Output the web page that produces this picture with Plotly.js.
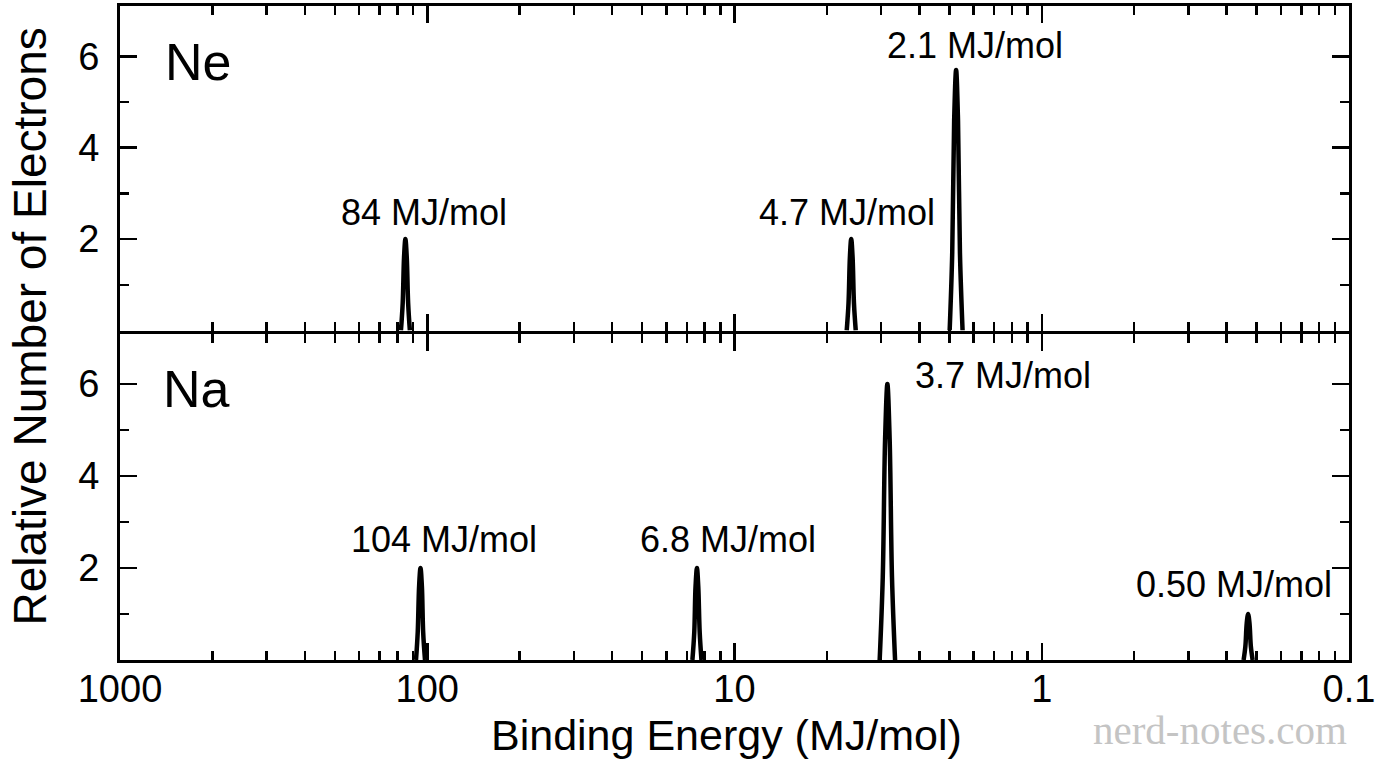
<!DOCTYPE html>
<html>
<head>
<meta charset="utf-8">
<script src="https://cdn.plot.ly/plotly-3.0.1.min.js"></script>
<style>
  html, body { margin: 0; padding: 0; background: #fff; }
  #chart { width: 1376px; height: 768px; }
</style>
</head>
<body>
<div id="chart"></div>
<script>
// binding energies (MJ/mol) and relative electron counts
const neEnergy = [121.8, 120.2, 119.0, 117.8, 116.6, 115.4, 113.9, null,
                  4.313, 4.255, 4.212, 4.170, 4.127, 4.085, 4.031, null,
                  1.994, 1.956, 1.928, 1.900, 1.873, 1.846, 1.810];
const neCount  = [0, 0.6, 1.6, 2, 1.6, 0.6, 0, null,
                  0, 0.6, 1.6, 2, 1.6, 0.6, 0, null,
                  0, 1.7, 4.6, 5.7, 4.6, 1.7, 0];

const naEnergy = [108.8, 107.4, 106.3, 105.2, 104.1, 103.1, 101.7, null,
                  13.71, 13.52, 13.39, 13.25, 13.12, 12.98, 12.81, null,
                  3.369, 3.292, 3.235, 3.180, 3.126, 3.072, 3.002, null,
                  0.2203, 0.2174, 0.2152, 0.2130, 0.2108, 0.2087, 0.2059];
const naCount  = [0, 0.6, 1.6, 2, 1.6, 0.6, 0, null,
                  0, 0.6, 1.6, 2, 1.6, 0.6, 0, null,
                  0, 1.8, 4.8, 6, 4.8, 1.8, 0, null,
                  0, 0.3, 0.8, 1, 0.8, 0.3, 0];

// peak labels
const neLabels = ['84 MJ/mol', '4.7 MJ/mol', '2.1 MJ/mol'];
const neLabelE = [102.8, 4.30, 1.644];
const neLabelY = [2.59, 2.59, 6.24];
const naLabels = ['104 MJ/mol', '6.8 MJ/mol', '3.7 MJ/mol', '0.50 MJ/mol'];
const naLabelE = [88.5, 10.5, 1.334, 0.237];
const naLabelY = [2.61, 2.61, 6.18, 1.64];

// axis ticks
const xTickVals = [1000, 100, 10, 1, 0.1];
const xTickText = ['1000', '100', '10', '1', '0.1'];
const yTickVals = [2, 4, 6];
const yMinorVals = [1, 3, 5];

// minor ticks laid out the way the figure draws them inside each decade
var xMinorVals = [];
for (let e = 2; e >= -1; --e) {
    for (let k = 2; k <= 9; ++k) {
        xMinorVals.push(Math.pow(10, e + 1) / k);
    }
}

const FONT = 'Liberation Sans, Arial, sans-serif';

function xAxis(showLabels, anchor) {
    return {
        type: 'log',
        range: [3, -1],
        anchor: anchor,
        tickmode: 'array',
        tickvals: xTickVals,
        ticktext: xTickText,
        showticklabels: showLabels,
        ticks: 'inside',
        ticklen: 17,
        tickwidth: 2.5,
        tickcolor: '#000',
        minor: {tickmode: 'array', tickvals: xMinorVals, ticks: 'inside',
                ticklen: 9, tickwidth: 2.5, tickcolor: '#000'},
        showline: true,
        linewidth: 3,
        linecolor: '#000',
        mirror: 'ticks',
        showgrid: false,
        zeroline: false,
        tickfont: {family: FONT, size: 38, color: '#000'},
        ticklabelstandoff: -7
    };
}
function yAxis(domain, anchor) {
    return {
        domain: domain,
        anchor: anchor,
        range: [0, 7.1],
        tickmode: 'array',
        tickvals: yTickVals,
        ticks: 'inside',
        ticklen: 17,
        tickwidth: 2.5,
        tickcolor: '#000',
        minor: {tickmode: 'array', tickvals: yMinorVals, ticks: 'inside',
                ticklen: 9, tickwidth: 2.5, tickcolor: '#000'},
        showline: true,
        linewidth: 3,
        linecolor: '#000',
        mirror: 'ticks',
        showgrid: false,
        zeroline: false,
        tickfont: {family: FONT, size: 38, color: '#000'},
        ticklabelstandoff: 10
    };
}

var traces = [
    {x: neEnergy, y: neCount, xaxis: 'x', yaxis: 'y', type: 'scatter', mode: 'lines',
     line: {color: '#000', width: 4.5, shape: 'spline', smoothing: 1}, connectgaps: false,
     hoverinfo: 'skip', showlegend: false},
    {x: naEnergy, y: naCount, xaxis: 'x2', yaxis: 'y2', type: 'scatter', mode: 'lines',
     line: {color: '#000', width: 4.5, shape: 'spline', smoothing: 1}, connectgaps: false,
     hoverinfo: 'skip', showlegend: false}
];

var annotations = [];
const labelFont = {family: FONT, size: 36, color: '#000'};
neLabels.forEach((t, i) => annotations.push({
    text: t, xref: 'x', yref: 'y', x: Math.log10(neLabelE[i]), y: neLabelY[i],
    showarrow: false, xanchor: 'center', yanchor: 'middle', font: labelFont}));
naLabels.forEach((t, i) => annotations.push({
    text: t, xref: 'x2', yref: 'y2', x: Math.log10(naLabelE[i]), y: naLabelY[i],
    showarrow: false, xanchor: 'center', yanchor: 'middle', font: labelFont}));

annotations.push(
    {text: 'Ne', xref: 'paper', yref: 'paper', x: 0.035, y: 0.914, showarrow: false,
     xanchor: 'left', yanchor: 'middle', font: {family: FONT, size: 52, color: '#000'}},
    {text: 'Na', xref: 'paper', yref: 'paper', x: 0.033, y: 0.414, showarrow: false,
     xanchor: 'left', yanchor: 'middle', font: {family: FONT, size: 52, color: '#000'}},
    {text: 'Relative Number of Electrons', xref: 'paper', yref: 'paper', x: -0.0732, y: 0.51,
     textangle: -90, showarrow: false, xanchor: 'center', yanchor: 'middle',
     font: {family: FONT, size: 46, color: '#000'}},
    {text: 'Binding Energy (MJ/mol)', xref: 'paper', yref: 'paper', x: 0.4937, y: -0.115,
     showarrow: false, xanchor: 'center', yanchor: 'middle',
     font: {family: FONT, size: 43, color: '#000'}},
    {text: 'nerd-notes.com', xref: 'paper', yref: 'paper', x: 0.895, y: -0.107,
     showarrow: false, xanchor: 'center', yanchor: 'middle',
     font: {family: 'Liberation Serif, serif', size: 41, color: '#c4c4c4'}}
);

var layout = {
    width: 1376,
    height: 768,
    margin: {l: 120, r: 27, t: 6, b: 108},
    paper_bgcolor: '#fff',
    plot_bgcolor: '#fff',
    showlegend: false,
    xaxis: xAxis(false, 'y'),
    xaxis2: Object.assign(xAxis(true, 'y2'), {matches: 'x'}),
    yaxis: yAxis([0.5038, 1], 'x'),
    yaxis2: yAxis([0, 0.4992], 'x2'),
    annotations: annotations
};

Plotly.newPlot('chart', traces, layout, {staticPlot: true});
</script>
</body>
</html>
